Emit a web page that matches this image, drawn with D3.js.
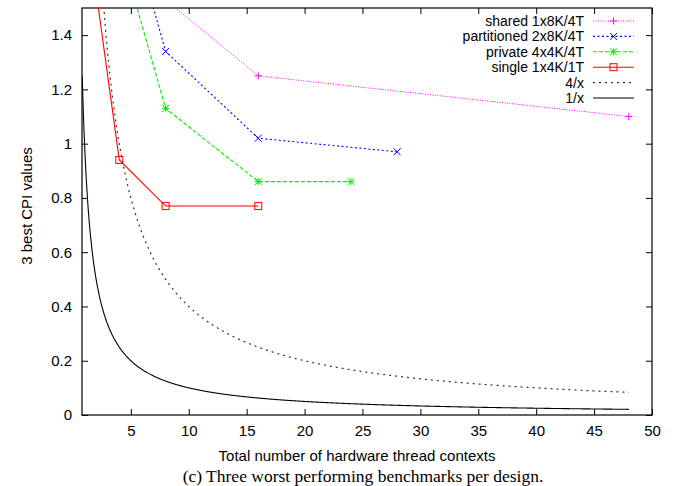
<!DOCTYPE html>
<html>
<head>
<meta charset="utf-8">
<script src="https://cdn.jsdelivr.net/npm/d3@7"></script>
<style>
  html, body { margin: 0; padding: 0; background: #fff; }
  svg { display: block; }
</style>
</head>
<body>
<svg id="chart" width="682" height="486"></svg>
<script>
// Axis ticks
const xTicks = [5, 10, 15, 20, 25, 30, 35, 40, 45, 50];
const yTicks = [0, 0.2, 0.4, 0.6, 0.8, 1, 1.2, 1.4];

// Measured designs: total hardware thread contexts vs. CPI
const sharedX = [8, 16, 48];
const sharedY = [1.53, 1.25, 1.10];
const partitionedX = [4, 8, 16, 28];
const partitionedY = [1.95, 1.34, 1.02, 0.97];
const privateX = [4, 8, 16, 24];
const privateY = [1.73, 1.13, 0.86, 0.86];
const singleX = [2, 4, 8, 16];
const singleY = [1.56, 0.94, 0.77, 0.77];

// Reference curves k/x
const refNames = ["4/x", "1/x"];
const refK = [4, 1];
const refStart = 0.8, refEnd = 48;

const svg = d3.select("#chart");
const L = 82, R = 652, T = 8, B = 415;
const x = d3.scaleLinear().domain([0.78, 50]).range([L, R]);
const y = d3.scaleLinear().domain([0, 1.5]).range([B, T]);

const sansFont = "'Liberation Sans', Arial, Helvetica, sans-serif";
const serifFont = "'Liberation Serif', 'Times New Roman', serif";
const fs = 15;

svg.append("defs").append("clipPath").attr("id", "plotclip")
  .append("rect").attr("x", L).attr("y", T).attr("width", R - L).attr("height", B - T);

// Axes with inward, mirrored ticks
const tickLen = 6;
const gx = svg.append("g").attr("transform", `translate(0,${B})`)
  .call(d3.axisBottom(x).tickValues(xTicks).tickSize(-tickLen).tickPadding(10).tickFormat(d3.format("d")));
const gxTop = svg.append("g").attr("transform", `translate(0,${T})`)
  .call(d3.axisTop(x).tickValues(xTicks).tickSize(-tickLen).tickFormat(""));
const gy = svg.append("g").attr("transform", `translate(${L},0)`)
  .call(d3.axisLeft(y).tickValues(yTicks).tickSize(-tickLen).tickPadding(10).tickFormat(d => d3.format("~g")(d)));
const gyRight = svg.append("g").attr("transform", `translate(${R},0)`)
  .call(d3.axisRight(y).tickValues(yTicks).tickSize(-tickLen).tickFormat(""));

[gx, gxTop, gy, gyRight].forEach(g => {
  g.select(".domain").remove();
  g.selectAll(".tick line").attr("stroke", "#000").attr("stroke-width", 1);
  g.selectAll(".tick text").attr("font-family", sansFont).attr("font-size", fs).attr("fill", "#000");
});
svg.append("rect").attr("x", L).attr("y", T).attr("width", R - L).attr("height", B - T)
  .attr("fill", "none").attr("stroke", "#000").attr("stroke-width", 1.2);

// Axis titles and caption
svg.append("text").attr("x", 357).attr("y", 461).attr("text-anchor", "middle")
  .attr("font-family", sansFont).attr("font-size", fs).text("Total number of hardware thread contexts");
svg.append("text").attr("transform", "translate(32,206) rotate(-90)").attr("text-anchor", "middle")
  .attr("font-family", sansFont).attr("font-size", fs).text("3 best CPI values");
svg.append("text").attr("x", 363).attr("y", 482).attr("text-anchor", "middle")
  .attr("font-family", serifFont).attr("font-size", 17.5).text("(c) Three worst performing benchmarks per design.");

// Marker shapes
function drawMarker(g, type, cx, cy, color) {
  const s = 3.5;
  if (type === "plus" || type === "star") {
    g.append("path").attr("d", `M${cx - s},${cy}H${cx + s}M${cx},${cy - s}V${cy + s}`)
      .attr("stroke", color).attr("stroke-width", 1).attr("fill", "none");
  }
  if (type === "cross" || type === "star") {
    g.append("path").attr("d", `M${cx - s},${cy - s}L${cx + s},${cy + s}M${cx - s},${cy + s}L${cx + s},${cy - s}`)
      .attr("stroke", color).attr("stroke-width", 1).attr("fill", "none");
  }
  if (type === "square") {
    g.append("rect").attr("x", cx - s).attr("y", cy - s).attr("width", 2 * s).attr("height", 2 * s)
      .attr("stroke", color).attr("stroke-width", 1).attr("fill", "none");
  }
}

const series = [
  { name: "shared 1x8K/4T", xs: sharedX, ys: sharedY, color: "#ff00ff", dash: "1,1.5", marker: "plus", width: 1 },
  { name: "partitioned 2x8K/4T", xs: partitionedX, ys: partitionedY, color: "#0000ff", dash: "2,2.5", marker: "cross", width: 1.1 },
  { name: "private 4x4K/4T", xs: privateX, ys: privateY, color: "#00ee00", dash: "4,2", marker: "star", width: 1.1 },
  { name: "single 1x4K/1T", xs: singleX, ys: singleY, color: "#ff0000", dash: null, marker: "square", width: 1.1 }
];

const plot = svg.append("g").attr("clip-path", "url(#plotclip)");
const line = d3.line().x(d => x(d[0])).y(d => y(d[1]));

// Reference curves
refK.forEach((k, i) => {
  const pts = d3.range(refStart, refEnd + 1e-9, 0.04).map(v => [v, k / v]);
  pts.push([refEnd, k / refEnd]);
  plot.append("path").attr("d", line(pts)).attr("fill", "none")
    .attr("stroke", i === 0 ? "#333" : "#000").attr("stroke-width", i === 0 ? 1.2 : 1.1)
    .attr("stroke-dasharray", i === 0 ? "2,4" : null);
});

// Measured series
series.forEach(s => {
  const pts = s.xs.map((v, i) => [v, s.ys[i]]);
  plot.append("path").attr("d", line(pts)).attr("fill", "none")
    .attr("stroke", s.color).attr("stroke-width", s.width)
    .attr("stroke-dasharray", s.dash);
  const mg = svg.append("g");
  pts.filter(p => p[1] <= 1.5).forEach(p => drawMarker(mg, s.marker, x(p[0]), y(p[1]), s.color));
});

// Legend
const legX = 584, lineX0 = 593, lineX1 = 634, rowY0 = 21, rowH = 15.4;
const legFs = 14;
const legendItems = series.map(s => ({ name: s.name, color: s.color, dash: s.dash, marker: s.marker, width: s.width }))
  .concat([
    { name: refNames[0], color: "#333", dash: "2,4", marker: null, width: 1.2 },
    { name: refNames[1], color: "#000", dash: null, marker: null, width: 1.1 }
  ]);
const leg = svg.append("g");
legendItems.forEach((it, i) => {
  const ry = rowY0 + i * rowH;
  leg.append("text").attr("x", legX).attr("y", ry + 5).attr("text-anchor", "end")
    .attr("font-family", sansFont).attr("font-size", legFs).text(it.name);
  leg.append("line").attr("x1", lineX0).attr("x2", lineX1).attr("y1", ry).attr("y2", ry)
    .attr("stroke", it.color).attr("stroke-width", it.width).attr("stroke-dasharray", it.dash);
  if (it.marker) drawMarker(leg, it.marker, (lineX0 + lineX1) / 2, ry, it.color);
});
</script>
</body>
</html>
